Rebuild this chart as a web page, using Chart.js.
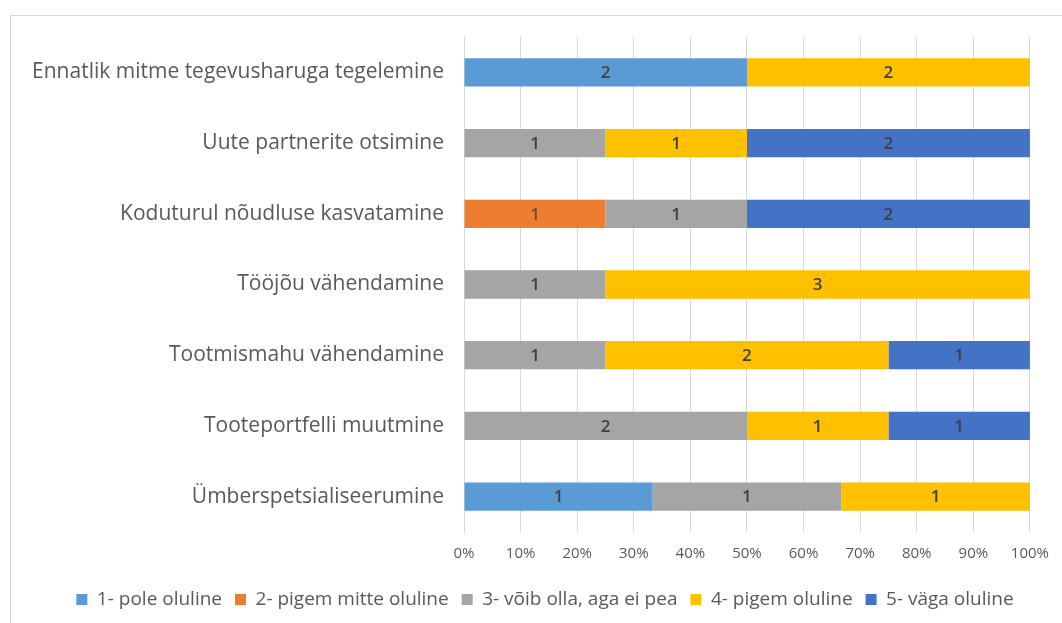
<!DOCTYPE html>
<html>
<head>
<meta charset="utf-8">
<script src="https://cdn.jsdelivr.net/npm/chart.js@4.4.1/dist/chart.umd.min.js"></script>
<style>
  html, body { margin: 0; padding: 0; background: #fff; }
  #frame {
    position: absolute; left: 10px; top: 15px; width: 1060px; height: 620px;
    border: 1px solid #d9d9d9; box-sizing: border-box;
  }
  #wrap { position: absolute; left: 0; top: 0; width: 1062px; height: 623px; }
</style>
</head>
<body>
<div id="frame"></div>
<div id="wrap"><canvas id="chart" width="1062" height="623"></canvas></div>
<script>
        const categories = [
            'Ennatlik mitme tegevusharuga tegelemine',
            'Uute partnerite otsimine',
            'Koduturul nõudluse kasvatamine',
            'Tööjõu vähendamine',
            'Tootmismahu vähendamine',
            'Tooteportfelli muutmine',
            'Ümberspetsialiseerumine'
        ];
        // vastuste arv iga hinnangu kohta
        const poleOluline      = [2, 0, 0, 0, 0, 0, 1];
        const pigemMitte       = [0, 0, 1, 0, 0, 0, 0];
        const voibOlla         = [0, 1, 1, 1, 1, 2, 1];
        const pigemOluline     = [2, 1, 0, 3, 2, 1, 1];
        const vagaOluline      = [0, 2, 2, 0, 1, 1, 0];
        const tickLabels = ['0%', '10%', '20%', '30%', '40%', '50%', '60%', '70%', '80%', '90%', '100%'];

        const seriesNames = ['1- pole oluline', '2- pigem mitte oluline', '3- võib olla, aga ei pea', '4- pigem oluline', '5- väga oluline'];
        const seriesCounts = [poleOluline, pigemMitte, voibOlla, pigemOluline, vagaOluline];
        const colors = ['#5B9BD5', '#ED7D31', '#A5A5A5', '#FFC000', '#4472C4'];

        const totals = categories.map((c, i) => seriesCounts.reduce((s, arr) => s + arr[i], 0));

        const datasets = seriesCounts.map((arr, k) => ({
            label: seriesNames[k],
            data: arr.map((v, i) => v ? v / totals[i] * 100 : null),
            counts: arr,
            backgroundColor: colors[k],
            borderWidth: 0,
            categoryPercentage: 1,
            barPercentage: 0.4
        }));

        // sildid tulpade keskele
        const barLabels = {
            id: 'barLabels',
            afterDatasetsDraw(chart) {
                const ctx = chart.ctx;
                ctx.save();
                ctx.font = '600 17px "Open Sans"';
                ctx.textAlign = 'center';
                ctx.textBaseline = 'middle';
                chart.data.datasets.forEach((ds, k) => {
                    chart.getDatasetMeta(k).data.forEach((bar, i) => {
                        const n = ds.counts[i];
                        if (!n) return;
                        ctx.fillStyle = k === 1 ? '#7b4a26' : '#404040';
                        ctx.fillText(String(n), (bar.x + bar.base) / 2, bar.y + 1);
                    });
                });
                ctx.restore();
            }
        };

        // legend veidi paremale, nagu Exceli joonisel
        const legendShift = {
            id: 'legendShift',
            afterLayout(chart) {
                chart.legend.left += 59;
            }
        };

        const ctx = document.getElementById('chart').getContext('2d');
        const chart = new Chart(ctx, {
            type: 'bar',
            data: { labels: categories, datasets: datasets },
            options: {
                indexAxis: 'y',
                responsive: false,
                animation: false,
                layout: { padding: { left: 0, right: 31, top: 37, bottom: 4 } },
                scales: {
                    x: {
                        stacked: true,
                        min: 0,
                        max: 100,
                        border: { display: false },
                        grid: { color: '#d9d9d9', drawTicks: false },
                        ticks: {
                            stepSize: 10,
                            padding: 13,
                            color: '#595959',
                            font: { family: 'Open Sans', size: 15 },
                            callback: (v, i) => tickLabels[i]
                        },
                        afterFit: s => { s.height = 45; }
                    },
                    y: {
                        stacked: true,
                        border: { display: true, color: '#d9d9d9' },
                        grid: { display: false },
                        ticks: {
                            padding: 12,
                            color: '#595959',
                            font: { family: 'Open Sans', size: 21 }
                        },
                        afterFit: s => { s.width = 464; }
                    }
                },
                plugins: {
                    legend: {
                        position: 'bottom',
                        labels: {
                            color: '#595959',
                            font: { family: 'Open Sans', size: 19 },
                            boxWidth: 11,
                            boxHeight: 11,
                            padding: 13
                        }
                    },
                    tooltip: { enabled: false }
                }
            },
            plugins: [barLabels, legendShift]
        });
</script>
</body>
</html>
